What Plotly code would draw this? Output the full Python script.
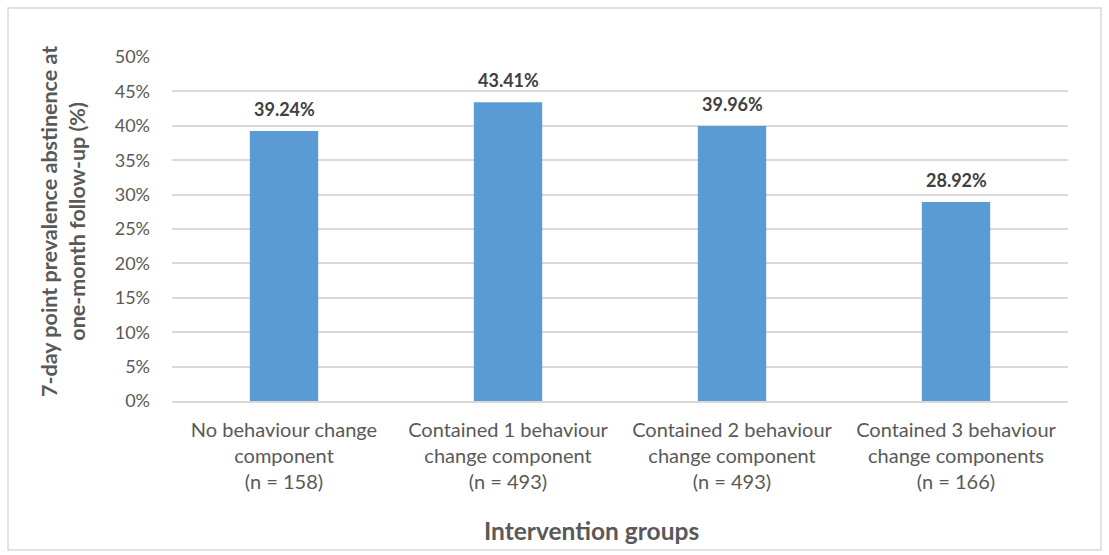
import plotly.graph_objects as go

# Intervention groups and 7-day point prevalence abstinence (%)
groups = [
    "No behaviour change<br>component<br>(n = 158)",
    "Contained 1 behaviour<br>change component<br>(n = 493)",
    "Contained 2 behaviour<br>change component<br>(n = 493)",
    "Contained 3 behaviour<br>change components<br>(n = 166)",
]
abstinence = [39.24, 43.41, 39.96, 28.92]
y_ticks = [0, 5, 10, 15, 20, 25, 30, 35, 40, 45, 50]
y_tick_labels = [f"{v}%" for v in y_ticks]

W, H = 1109, 555
L, R, T, B = 172, 1068, 57, 401  # plot area in pixels

FONT = "Lato, Calibri, Arial, sans-serif"
GREY = "#595959"

fig = go.Figure()
fig.add_trace(go.Bar(
    x=groups,
    y=abstinence,
    marker=dict(color="#5b9bd5", line=dict(width=0)),
    width=0.305,
    hoverinfo="skip",
))

# value labels above each bar
for g, v in zip(groups, abstinence):
    fig.add_annotation(
        x=g, y=v, xref="x", yref="y",
        text=f"<b>{v:.2f}%</b>",
        showarrow=False, yanchor="bottom", yshift=9,
        font=dict(family=FONT, size=18, color="#404040"),
    )

pw, ph = R - L, B - T


def px_x(x):
    return (x - L) / pw


def px_y(y):
    return (B - y) / ph


# y-axis title (two lines)
fig.add_annotation(
    xref="paper", yref="paper", x=px_x(63), y=px_y(222),
    text="<b>7-day point prevalence abstinence at<br>one-month follow-up (%)</b>",
    textangle=-90, showarrow=False, xanchor="center", yanchor="middle",
    font=dict(family=FONT, size=21.5, color=GREY),
)

# x-axis title
fig.add_annotation(
    xref="paper", yref="paper", x=px_x(591), y=px_y(530),
    text="<b>Intervention groups</b>",
    showarrow=False, xanchor="center", yanchor="middle",
    font=dict(family=FONT, size=24.5, color=GREY),
)

# chart border
fig.add_shape(
    type="rect", xref="paper", yref="paper",
    x0=px_x(8), x1=px_x(1101), y0=px_y(550), y1=px_y(8),
    line=dict(color="#d9d9d9", width=1.5), fillcolor="rgba(0,0,0,0)",
)

fig.update_layout(
    width=W, height=H,
    margin=dict(l=L, r=W - R, t=T, b=H - B),
    paper_bgcolor="white", plot_bgcolor="white",
    showlegend=False,
    font=dict(family=FONT, color=GREY),
    xaxis=dict(
        showgrid=False, showline=True, linecolor="#d9d9d9", linewidth=1.5,
        ticks="", tickfont=dict(family=FONT, size=20, color=GREY),
        ticklabelstandoff=10,
    ),
    yaxis=dict(
        range=[0, 50], tickvals=y_ticks, ticktext=y_tick_labels,
        showgrid=True, gridcolor="#d9d9d9", gridwidth=1.5,
        zeroline=False, showline=False, ticks="",
        tickfont=dict(family=FONT, size=18, color=GREY),
        ticklabelstandoff=21,
    ),
    bargap=0.7,
)

fig.write_html("out.html")
